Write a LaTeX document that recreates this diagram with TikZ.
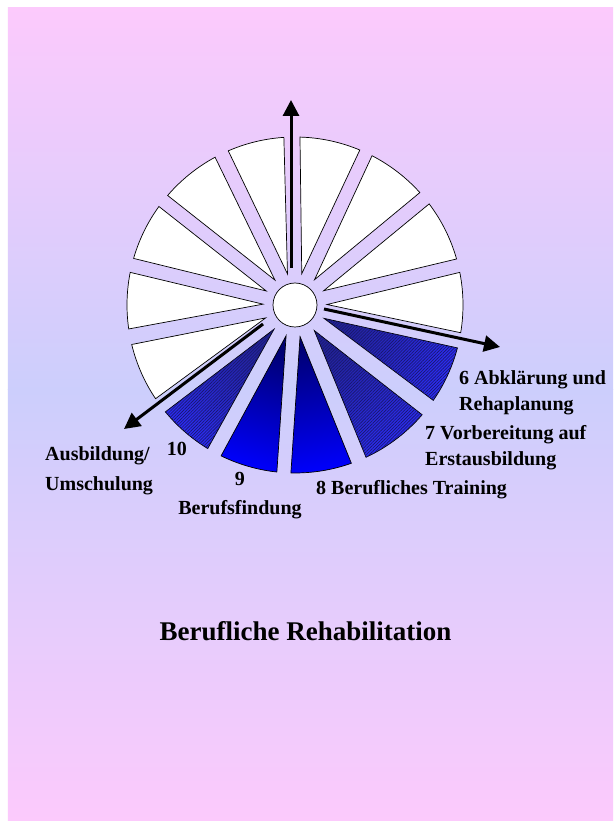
\documentclass[tikz,border=0pt]{standalone}
\usepackage{fontspec}
\setmainfont{Liberation Serif}
\usetikzlibrary{arrows.meta,patterns.meta}

\definecolor{bgpink}{RGB}{252,202,252}
\definecolor{bgblue}{RGB}{204,206,252}
\definecolor{wnavy}{RGB}{0,0,112}
\definecolor{wblue}{RGB}{0,0,250}
\definecolor{hdark}{RGB}{34,34,150}
\definecolor{hblue}{RGB}{44,44,245}

\tikzset{
  seg/.style={draw=black, line width=0.7pt},
  segwhite/.style={seg, fill=white},
  axisarrow/.style={line width=3pt, -{Triangle[length=16pt,width=16pt]}},
  lbl/.style={font=\fontsize{20}{26}\selectfont\bfseries, inner sep=0pt},
}

\newcommand{\Rout}{168}
\newcommand{\Rin}{32}

\begin{document}
\begin{tikzpicture}[x=1pt,y=1pt]
\useasboundingbox (-295,-516) rectangle (318,305);
\fill[white] (-295,-516) rectangle (318,305);
\shade[top color=bgpink, bottom color=bgblue] (-287,-85) rectangle (318,297);
\shade[top color=bgblue, bottom color=bgpink] (-287,-516) rectangle (318,-85);

% white segments
\foreach \a/\b in {67.3/88.3, 42/62.7, 15.9/37, -9.5/11.2, 93.8/113.4, 118.4/139.3, 144.1/163.9, 168.8/188.2, 193.6/213.9}
  \draw[segwhite] ({(\a+\b)/2}:\Rin) -- (\a:\Rout) arc[start angle=\a, end angle=\b, radius=\Rout] -- cycle;

% blue segments 8 and 9
\foreach \a/\b in {243.9/263.8, 268.6/289.6} {
  \pgfmathsetmacro\shang{(\a+\b)/2+90}
  \shadedraw[seg, top color=wnavy, bottom color=wblue, shading angle=\shang]
    ({(\a+\b)/2}:\Rin) -- (\a:\Rout) arc[start angle=\a, end angle=\b, radius=\Rout] -- cycle;
}

% hatched segments 6, 7 and 10
\foreach \a/\b in {325.4/345.2, 295/319.2, 219.5/238.7} {
  \pgfmathsetmacro\shang{(\a+\b)/2+90}
  \shadedraw[seg, top color=hdark, bottom color=hblue, shading angle=\shang,
    postaction={pattern={Lines[angle=45,distance=2.2pt,line width=0.6pt]}, pattern color=hdark!70!black}]
    ({(\a+\b)/2}:\Rin) -- (\a:\Rout) arc[start angle=\a, end angle=\b, radius=\Rout] -- cycle;
}

\node[circle, draw, fill=white, line width=0.7pt, minimum size=44pt, inner sep=0pt] (hub) at (0,0) {};

\coordinate (upS) at (-4,37);
\coordinate (upT) at (-4,205);
\coordinate (rightS) at (29,-4);
\coordinate (rightT) at (205,-42);
\coordinate (leftS) at (-32,-19);
\coordinate (leftT) at (-171,-124);
\draw[axisarrow] (upS) -- (upT);
\draw[axisarrow] (rightS) -- (rightT);
\draw[axisarrow] (leftS) -- (leftT);

\node[lbl, anchor=west, align=left] (six) at (164,-88) {6 Abklärung und\\Rehaplanung};
\node[lbl, anchor=west, align=left] (seven) at (130,-142.5) {7 Vorbereitung auf\\Erstausbildung};
\node[lbl, anchor=west] (eight) at (21,-185) {8 Berufliches Training};
\node[lbl, align=center] (nine) at (-55,-190.5) {9\\[3pt]Berufsfindung};
\node[lbl] (ten) at (-118,-144) {10};
\node[lbl, anchor=west, align=left] (ausb) at (-250,-166) {Ausbildung/\\[4pt]Umschulung};

\node[font=\fontsize{27}{32}\selectfont\bfseries] (title) at (10.5,-326) {Berufliche Rehabilitation};
\end{tikzpicture}
\end{document}
